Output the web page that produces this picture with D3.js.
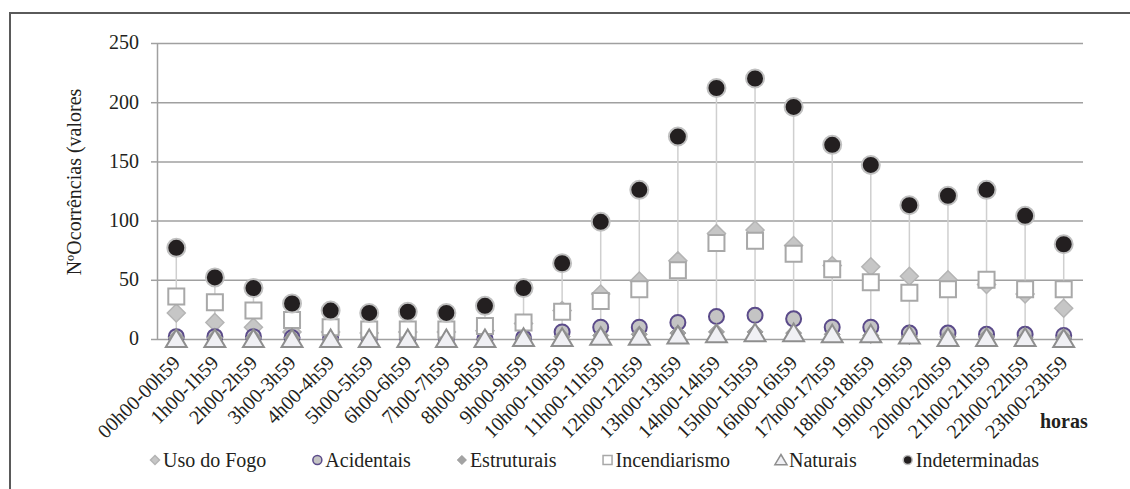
<!DOCTYPE html>
<html>
<head>
<meta charset="utf-8">
<script src="https://cdn.jsdelivr.net/npm/d3@7"></script>
<style>
    body { margin: 0; background: #fff; }
</style>
</head>
<body>
<div id="chart"></div>
<script>
var horas = ['00h00-00h59', '1h00-1h59', '2h00-2h59', '3h00-3h59', '4h00-4h59', '5h00-5h59',
    '6h00-6h59', '7h00-7h59', '8h00-8h59', '9h00-9h59', '10h00-10h59', '11h00-11h59',
    '12h00-12h59', '13h00-13h59', '14h00-14h59', '15h00-15h59', '16h00-16h59', '17h00-17h59',
    '18h00-18h59', '19h00-19h59', '20h00-20h59', '21h00-21h59', '22h00-22h59', '23h00-23h59'];

var usoFogo        = [22, 14, 10, 6, 6, 5, 6, 6, 7, 13, 24, 38, 49, 66, 89, 92, 79, 62, 61, 53, 50, 46, 38, 26];
var acidentais     = [2, 2, 2, 1, 1, 0, 0, 0, 0, 1, 6, 10, 10, 14, 19, 20, 17, 10, 10, 5, 5, 4, 4, 3];
var estruturais    = [1, 1, 1, 1, 0, 0, 0, 0, 0, 1, 2, 3, 4, 5, 6, 6, 5, 4, 3, 2, 2, 2, 1, 1];
var incendiarismo  = [36, 31, 24, 16, 10, 8, 8, 8, 11, 14, 23, 32, 42, 58, 81, 83, 72, 59, 48, 39, 42, 50, 42, 42];
var naturais       = [0, 0, 0, 0, 0, 0, 0, 0, 0, 1, 1, 2, 2, 3, 4, 5, 5, 4, 4, 3, 1, 1, 1, 0];
var indeterminadas = [77, 52, 43, 30, 24, 22, 23, 22, 28, 43, 64, 99, 126, 171, 212, 220, 196, 164, 147, 113, 121, 126, 104, 80];

var yTicks = [0, 50, 100, 150, 200, 250];

var series = [
    { name: 'Uso do Fogo', values: usoFogo, shape: 'diamond', size: 9, fill: '#c6c6c6', stroke: '#b4b4b4', sw: 1.5 },
    { name: 'Acidentais', values: acidentais, shape: 'circle', size: 7.5, fill: '#c4c4c4', stroke: '#5b4b8a', sw: 2 },
    { name: 'Estruturais', values: estruturais, shape: 'diamond', size: 8, fill: '#a3a3a3', stroke: '#9a9a9a', sw: 1 },
    { name: 'Incendiarismo', values: incendiarismo, shape: 'square', size: 8, fill: '#ffffff', stroke: '#a8a8a8', sw: 2 },
    { name: 'Naturais', values: naturais, shape: 'triangle', size: 9.5, fill: '#f0f0f4', stroke: '#8e8e8e', sw: 2 },
    { name: 'Indeterminadas', values: indeterminadas, shape: 'circle', size: 9, fill: '#231f20', stroke: '#c0c0c0', sw: 2 }
];

var width = 1130, height = 489;
var plot = { left: 157, right: 1083, top: 43, bottom: 339 };

var svg = d3.select('#chart').append('svg')
    .attr('width', width)
    .attr('height', height);

// frame
svg.append('path')
    .attr('d', 'M10,' + (height + 2) + 'V13H' + (width + 2))
    .attr('fill', 'none')
    .attr('stroke', '#5a5a5a')
    .attr('stroke-width', 2);

var x = d3.scaleBand().domain(horas).range([plot.left, plot.right]);
var y = d3.scaleLinear().domain([0, 250]).range([plot.bottom, plot.top]);

function shapePath(shape, s) {
    if (shape === 'diamond') return 'M0,' + (-s) + 'L' + s + ',0L0,' + s + 'L' + (-s) + ',0Z';
    if (shape === 'square') return 'M' + (-s) + ',' + (-s) + 'h' + 2 * s + 'v' + 2 * s + 'h' + (-2 * s) + 'Z';
    if (shape === 'triangle') return 'M0,' + (-s) + 'L' + 1.1 * s + ',' + 0.85 * s + 'L' + (-1.1 * s) + ',' + 0.85 * s + 'Z';
    return d3.symbol(d3.symbolCircle, Math.PI * s * s)();
}

function serif(sel) {
    sel.attr('font-family', 'Times New Roman')
        .attr('font-size', 20)
        .attr('fill', '#231f20')
        .style('font-family', "'Times New Roman'");
}

// grid
svg.append('g')
    .attr('transform', 'translate(' + plot.left + ',0)')
    .call(d3.axisLeft(y).tickValues(yTicks).tickSize(-(plot.right - plot.left)).tickFormat(''))
    .call(g => g.select('.domain').remove())
    .selectAll('line')
    .attr('stroke', '#a0a0a0')
    .attr('stroke-width', 1.5);

// y axis: ticks only, labels drawn as plain text
var yAxis = svg.append('g')
    .attr('transform', 'translate(' + plot.left + ',0)')
    .call(d3.axisLeft(y).tickValues(yTicks).tickSize(6).tickSizeOuter(0).tickFormat(''));
yAxis.select('.domain').attr('stroke', '#a0a0a0').attr('stroke-width', 1.5);
yAxis.selectAll('line').attr('stroke', '#a0a0a0').attr('stroke-width', 1.5);

svg.append('g').selectAll('text')
    .data(yTicks)
    .enter()
    .append('text')
    .attr('x', plot.left - 18)
    .attr('y', d => y(d))
    .attr('dy', '0.32em')
    .attr('text-anchor', 'end')
    .call(serif)
    .text(d => d);

svg.append('text')
    .attr('transform', 'translate(81,182) rotate(-90)')
    .attr('text-anchor', 'middle')
    .call(serif)
    .text('NºOcorrências  (valores');

// x labels
svg.append('g').selectAll('text')
    .data(horas)
    .enter()
    .append('text')
    .attr('text-anchor', 'end')
    .attr('transform', d => 'translate(' + (x(d) + x.bandwidth() / 2 + 5) + ',' + (plot.bottom + 25) + ') rotate(-45)')
    .call(serif)
    .text(d => d);

svg.append('text')
    .attr('x', 1040)
    .attr('y', 428)
    .call(serif)
    .attr('font-weight', 'bold')
    .text('horas');

// high-low lines
svg.append('g').selectAll('line')
    .data(horas)
    .enter()
    .append('line')
    .attr('x1', d => x(d) + x.bandwidth() / 2)
    .attr('x2', d => x(d) + x.bandwidth() / 2)
    .attr('y1', (d, i) => y(d3.max(series, s => s.values[i])))
    .attr('y2', (d, i) => y(d3.min(series, s => s.values[i])))
    .attr('stroke', '#cfcfcf')
    .attr('stroke-width', 1.5);

// markers
series.forEach(s => {
    svg.append('g').selectAll('path')
        .data(s.values)
        .enter()
        .append('path')
        .attr('d', shapePath(s.shape, s.size))
        .attr('transform', (d, i) => 'translate(' + (x(horas[i]) + x.bandwidth() / 2) + ',' + y(d) + ')')
        .attr('fill', s.fill)
        .attr('stroke', s.stroke)
        .attr('stroke-width', s.sw);
});

// legend
var lx = 155;
series.forEach(s => {
    var item = svg.append('g').attr('transform', 'translate(' + lx + ',460)');
    item.append('path')
        .attr('d', shapePath(s.shape, s.shape === 'triangle' ? 5.5 : 4.5))
        .attr('fill', s.fill)
        .attr('stroke', s.stroke)
        .attr('stroke-width', Math.min(s.sw, 1.5));
    var t = item.append('text')
        .attr('x', 8)
        .attr('y', 7)
        .call(serif)
        .text(s.name);
    lx += 8 + t.node().getComputedTextLength() + 51;
});
</script>
</body>
</html>
